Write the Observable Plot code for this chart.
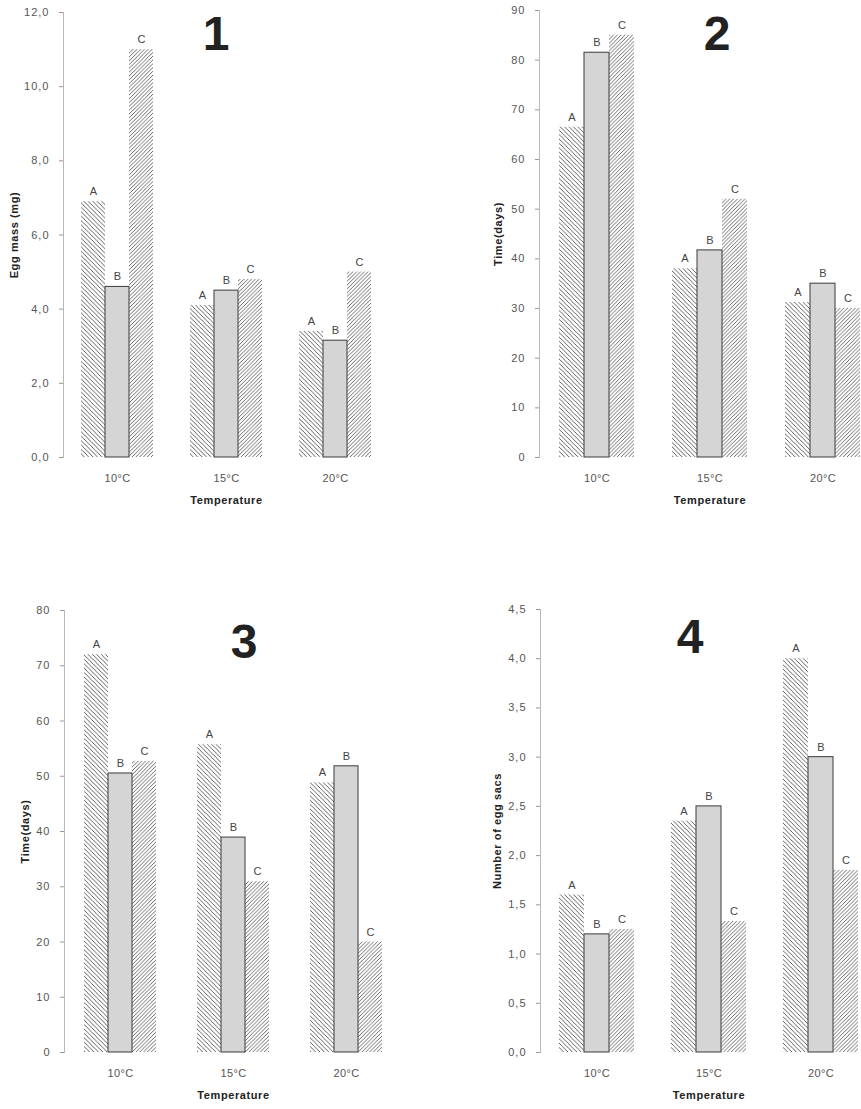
<!DOCTYPE html>
<html>
<head>
<meta charset="utf-8">
<script src="https://cdn.jsdelivr.net/npm/d3@7"></script>
<script src="https://cdn.jsdelivr.net/npm/@observablehq/plot@0.6"></script>
<style>
  html, body { margin: 0; padding: 0; background: #fff; }
  body { width: 861px; height: 1109px; position: relative; overflow: hidden; }
  .panel { position: absolute; width: 470px; }
  .panel svg { overflow: visible; max-width: none !important; font-family: "Liberation Sans", Arial, sans-serif; }
  g[aria-label="y-axis tick label"] text { letter-spacing: 1px; }
  g[aria-label="fx-axis tick label"] text { letter-spacing: 0.3px; }
  g[aria-label="y-axis label"] text, g[aria-label="fx-axis label"] text { font-weight: bold; fill: #222; letter-spacing: 0.6px; }
</style>
</head>
<body>
<div id="p1" class="panel" style="left:0px;top:0px"></div>
<div id="p2" class="panel" style="left:430px;top:0px"></div>
<div id="p3" class="panel" style="left:0px;top:560px"></div>
<div id="p4" class="panel" style="left:430px;top:560px"></div>
<script>
// ---- data ----
const temps = ["10°C", "15°C", "20°C"];
const groups = ["A", "B", "C"];

// Panel 1: Egg mass (mg)
const eggMassA = [6.9, 4.1, 3.4];
const eggMassB = [4.6, 4.5, 3.15];
const eggMassC = [11.0, 4.8, 5.0];

// Panel 2: Time (days)
const time2A = [66.5, 38, 31.2];
const time2B = [81.5, 41.7, 35];
const time2C = [85, 52, 30];

// Panel 3: Time (days)
const time3A = [72, 55.7, 48.8];
const time3B = [50.5, 38.9, 51.8];
const time3C = [52.7, 30.9, 20];

// Panel 4: Number of egg sacs
const sacsA = [1.6, 2.35, 4.0];
const sacsB = [1.2, 2.5, 3.0];
const sacsC = [1.25, 1.33, 1.85];

// tick values
const ticks1 = [0, 2, 4, 6, 8, 10, 12];
const ticks2 = [0, 10, 20, 30, 40, 50, 60, 70, 80, 90];
const ticks3 = [0, 10, 20, 30, 40, 50, 60, 70, 80];
const ticks4 = [0, 0.5, 1, 1.5, 2, 2.5, 3, 3.5, 4, 4.5];

function table(a, b, c) {
  const rows = [];
  temps.forEach((t, i) => {
    rows.push({temp: t, group: "A", value: a[i]});
    rows.push({temp: t, group: "B", value: b[i]});
    rows.push({temp: t, group: "C", value: c[i]});
  });
  return rows;
}

const comma1 = d => d.toFixed(1).replace(".", ",");
const intFmt = d => d.toFixed(0);

function panel(cfg) {
  const data = table(...cfg.series);
  const svg = Plot.plot({
    width: cfg.width,
    height: cfg.height,
    marginLeft: cfg.marginLeft,
    marginRight: cfg.marginRight,
    marginTop: cfg.marginTop,
    marginBottom: cfg.marginBottom,
    style: {color: "#555", fontSize: "11px", fontFamily: "Liberation Sans, Arial, sans-serif", background: "transparent"},
    fx: {
      domain: temps,
      paddingInner: cfg.pi,
      paddingOuter: cfg.po,
      label: "Temperature",
      labelAnchor: "center",
      labelOffset: 46,
      tickSize: 0,
      tickPadding: 17
    },
    x: {domain: groups, padding: 0, axis: null},
    y: {domain: cfg.domain},
    color: {domain: groups, range: [`url(#hatchA${cfg.id})`, "#d5d5d5", `url(#hatchC${cfg.id})`]},
    marks: [
      Plot.frame({anchor: "left", facetAnchor: "left", stroke: "#b8b8b8", dx: -cfg.gap}),
      Plot.axisY({
        ticks: cfg.ticks,
        tickFormat: cfg.fmt,
        tickSize: 4,
        tickPadding: 10,
        stroke: "#999",
        fill: "#555",
        dx: -cfg.gap,
        label: cfg.label,
        labelAnchor: "center",
        labelOffset: cfg.labelOffset,
        labelArrow: "none"
      }),
      Plot.barY(data, {fx: "temp", x: "group", y: "value", fill: "group", inset: 0}),
      Plot.barY(data.filter(d => d.group === "B"), {fx: "temp", x: "group", y: "value", fill: "none", stroke: "#3a3a3a", strokeWidth: 1, inset: 0}),
      Plot.text(data, {fx: "temp", x: "group", y: "value", text: "group", dy: -10, fill: "#444", fontSize: 11})
    ]
  });
  const s = d3.select(svg);
  const defs = s.insert("defs", ":first-child");
  const pa = defs.append("pattern").attr("id", `hatchA${cfg.id}`).attr("patternUnits", "userSpaceOnUse").attr("width", 4.4).attr("height", 4.4);
  pa.append("rect").attr("width", 4.4).attr("height", 4.4).attr("fill", "#fff");
  pa.append("path").attr("d", "M-1,-1L5.4,5.4M3.4,-1L5.4,1M-1,3.4L1,5.4").attr("stroke", "#444").attr("stroke-width", 0.85);
  const pc = defs.append("pattern").attr("id", `hatchC${cfg.id}`).attr("patternUnits", "userSpaceOnUse").attr("width", 3.8).attr("height", 3.8);
  pc.append("rect").attr("width", 3.8).attr("height", 3.8).attr("fill", "#fff");
  pc.append("path").attr("d", "M-1,4.8L4.8,-1M-1,1L1,-1M2.8,4.8L4.8,2.8").attr("stroke", "#444").attr("stroke-width", 0.8);
  s.append("text")
    .attr("x", cfg.titleX).attr("y", cfg.titleY)
    .attr("text-anchor", "middle")
    .attr("font-size", 48).attr("font-weight", "bold")
    .attr("font-family", "Liberation Sans, Arial, sans-serif")
    .attr("fill", "#222")
    .text(cfg.title);
  document.getElementById(cfg.el).appendChild(svg);
}

panel({el: "p1", id: 1, title: "1", titleX: 216, titleY: 50,
  series: [eggMassA, eggMassB, eggMassC], domain: [0, 12], ticks: ticks1, fmt: comma1,
  label: "Egg mass (mg)", labelOffset: 71, gap: 18,
  width: 430, height: 509, marginLeft: 62, marginRight: 39, marginTop: 12, marginBottom: 52,
  pi: 0.336, po: 0.164});

panel({el: "p2", id: 2, title: "2", titleX: 287, titleY: 50,
  series: [time2A, time2B, time2C], domain: [0, 90], ticks: ticks2, fmt: intFmt,
  label: "Time(days)", labelOffset: 65, gap: 20,
  width: 460, height: 509, marginLeft: 108, marginRight: 10, marginTop: 10, marginBottom: 52,
  pi: 0.338, po: 0.176});

panel({el: "p3", id: 3, title: "3", titleX: 244, titleY: 98,
  series: [time3A, time3B, time3C], domain: [0, 80], ticks: ticks3, fmt: intFmt,
  label: "Time(days)", labelOffset: 62, gap: 19,
  width: 430, height: 544, marginLeft: 63, marginRight: 26, marginTop: 50, marginBottom: 52,
  pi: 0.342, po: 0.167});

panel({el: "p4", id: 4, title: "4", titleX: 260, titleY: 93,
  series: [sacsA, sacsB, sacsC], domain: [0, 4.5], ticks: ticks4, fmt: comma1,
  label: "Number of egg sacs", labelOffset: 66, gap: 19,
  width: 460, height: 544, marginLeft: 109, marginRight: 13, marginTop: 49, marginBottom: 52,
  pi: 0.333, po: 0.169});
</script>
</body>
</html>
